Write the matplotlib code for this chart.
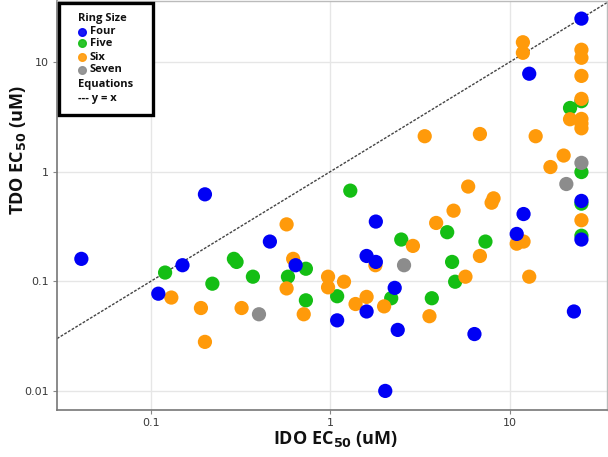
import matplotlib
matplotlib.use("Agg")
import matplotlib.pyplot as plt
from matplotlib.patches import Rectangle
from matplotlib.ticker import FixedLocator, NullLocator, FixedFormatter

# ---------------- data (IDO EC50, TDO EC50 in uM) ----------------
four_x = [0.041, 0.2, 0.11, 0.15, 0.46, 0.64, 1.79, 1.59, 1.79, 1.09, 1.59, 2.28,
          2.37, 2.02, 6.34, 10.9, 11.9, 22.7, 25, 25, 25, 12.8]
four_y = [0.16, 0.62, 0.077, 0.14, 0.23, 0.14, 0.35, 0.17, 0.15, 0.044, 0.053, 0.087,
          0.036, 0.010, 0.033, 0.27, 0.41, 0.053, 0.54, 0.24, 24.8, 7.8]

five_x = [0.12, 0.22, 0.29, 0.30, 0.37, 0.58, 0.73, 0.73, 1.29, 2.48, 1.09, 2.18,
          4.47, 4.76, 4.95, 3.67, 7.3, 25, 25, 25, 25, 21.6]
five_y = [0.12, 0.095, 0.16, 0.15, 0.11, 0.11, 0.13, 0.067, 0.67, 0.24, 0.073, 0.070,
          0.28, 0.15, 0.099, 0.070, 0.23, 0.99, 0.51, 0.26, 4.38, 3.8]

six_x = [0.13, 0.19, 0.2, 0.32, 0.57, 0.57, 0.62, 0.71, 1.78, 2.88, 0.97, 0.97,
         1.19, 1.38, 1.59, 1.99, 3.88, 4.85, 5.85, 5.65, 3.56, 7.9, 8.1, 6.8,
         10.9, 11.9, 12.8, 16.8, 25, 25, 25, 25, 25, 25, 25, 25, 21.6, 11.8,
         11.8, 13.9, 19.9, 3.35, 6.8]
six_y = [0.071, 0.057, 0.028, 0.057, 0.33, 0.086, 0.16, 0.05, 0.14, 0.21, 0.11, 0.088,
         0.099, 0.062, 0.072, 0.059, 0.34, 0.44, 0.73, 0.11, 0.048, 0.52, 0.57, 0.17,
         0.22, 0.23, 0.11, 1.1, 0.36, 12.9, 10.9, 7.45, 4.6, 3.02, 2.74, 2.48, 3.0, 15.1,
         12.1, 2.1, 1.4, 2.1, 2.2]

seven_x = [0.40, 2.57, 20.6, 25]
seven_y = [0.05, 0.14, 0.77, 1.2]

series_names = ["Four", "Five", "Six", "Seven"]
tick_vals = [0.01, 0.1, 1, 10]
tick_labels = ["0.01", "0.1", "1", "10"]

# ---------------- styling ----------------
C_BLUE = "#0000f5"
C_GREEN = "#14be14"
C_ORANGE = "#ff9a0a"
C_GRAY = "#8c8c8c"

W, H = 608, 457
fig = plt.figure(figsize=(W / 100, H / 100), dpi=100)


def fx(px):
    return px / W


def fy(py):
    return 1 - py / H


ax = fig.add_axes([fx(57), fy(410), fx(607) - fx(57), fy(1) - fy(410)])
ax.set_xscale("log")
ax.set_yscale("log")
ax.set_xlim(0.030, 34.7)
ax.set_ylim(0.0067, 35.9)

ax.grid(True, which="major", color="#e6e6e6", linewidth=1.0, zorder=0)
ax.set_axisbelow(True)

# y = x reference line
ax.axline((1, 1), (10, 10), color="#444444", linestyle=(0, (2.0, 1.1)),
          linewidth=1.0, zorder=1)

ms = 105
ax.scatter(five_x, five_y, s=ms, color=C_GREEN, edgecolors="none", zorder=3)
ax.scatter(six_x, six_y, s=ms, color=C_ORANGE, edgecolors="none", zorder=4)
ax.scatter(seven_x, seven_y, s=ms, color=C_GRAY, edgecolors="none", zorder=5)
ax.scatter(four_x, four_y, s=ms, color=C_BLUE, edgecolors="none", zorder=6)

ax.xaxis.set_major_locator(FixedLocator(tick_vals[1:]))
ax.xaxis.set_major_formatter(FixedFormatter(tick_labels[1:]))
ax.yaxis.set_major_locator(FixedLocator(tick_vals))
ax.yaxis.set_major_formatter(FixedFormatter(tick_labels))
ax.xaxis.set_minor_locator(NullLocator())
ax.yaxis.set_minor_locator(NullLocator())
ax.tick_params(axis="both", which="major", length=3, width=0.8, color="#888888",
               labelsize=8, labelcolor="#3a3a3a", pad=3)

for side in ["left", "bottom"]:
    ax.spines[side].set_color("#777777")
    ax.spines[side].set_linewidth(1.2)
for side in ["right", "top"]:
    ax.spines[side].set_color("#bbbbbb")
    ax.spines[side].set_linewidth(1.0)

# axis labels
fig.text(fx(335), fy(439), r"IDO EC$_{\mathbf{50}}$ (uM)", ha="center", va="center",
         fontsize=13, fontweight="bold", family="Open Sans", color="#111111")
fig.text(fx(18), fy(150), r"TDO EC$_{\mathbf{50}}$ (uM)", ha="center", va="center",
         rotation=90, fontsize=13, fontweight="bold", family="Open Sans", color="#111111")

# legend box
fig.patches.append(Rectangle((fx(59), fy(115)), fx(153) - fx(59), fy(3) - fy(115),
                             transform=fig.transFigure, facecolor="white",
                             edgecolor="black", linewidth=2.4, zorder=10))
lg_font = dict(fontsize=8, fontweight="bold", family="Open Sans", color="#111111",
               va="center", ha="left", zorder=11)
fig.text(fx(78), fy(19), "Ring Size", **lg_font)
legend_colors = [C_BLUE, C_GREEN, C_ORANGE, C_GRAY]
legend_rows = [32, 43, 57, 70]
for name, col, row in zip(series_names, legend_colors, legend_rows):
    fig.add_artist(plt.Line2D([fx(82)], [fy(row)], marker="o", markersize=5.5,
                              color=col, markeredgecolor=col, alpha=0.9,
                              transform=fig.transFigure, zorder=11))
    fig.text(fx(90), fy(row), name, **lg_font)
fig.text(fx(78), fy(84), "Equations", **lg_font)
fig.text(fx(78), fy(98), "--- y = x", **lg_font)

fig.savefig("out.png", dpi=100)
